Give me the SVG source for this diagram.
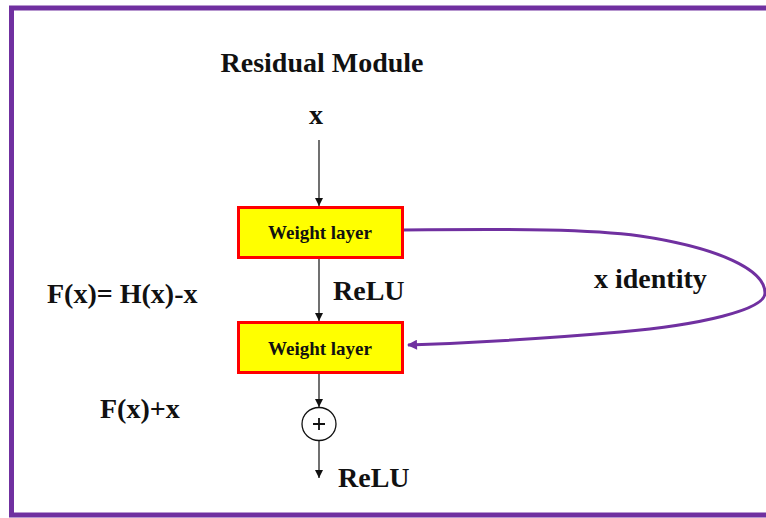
<svg xmlns="http://www.w3.org/2000/svg" width="766" height="518" viewBox="0 0 766 518">
  <style>
    text { font-family: "Liberation Serif", "Times New Roman", serif; font-weight: bold; fill: #111; }
    .big { font-size: 28px; }
    .lbl { font-size: 19px; text-anchor: middle; }
    .box { fill: #ffff00; stroke: #ff0000; stroke-width: 3; }
    .wire { fill: none; stroke: #111; stroke-width: 1.2; }
    .skip { fill: none; stroke: #7030a0; stroke-width: 3; }
  </style>
  <defs>
    <marker id="tip" viewBox="0 0 10 10" refX="10" refY="5" markerWidth="8" markerHeight="10" markerUnits="userSpaceOnUse" orient="auto">
      <path d="M0,0 L10,5 L0,10 z" fill="#111"/>
    </marker>
    <marker id="tipPurple" viewBox="0 0 10 10" refX="9" refY="5" markerWidth="12" markerHeight="10" markerUnits="userSpaceOnUse" orient="auto">
      <path d="M0,0 L10,5 L0,10 z" fill="#7030a0"/>
    </marker>
  </defs>

  <rect x="0" y="0" width="766" height="518" fill="#ffffff"/>
  <!-- outer frame -->
  <rect x="11.5" y="8" width="800" height="507" fill="none" stroke="#7030a0" stroke-width="5"/>

  <text class="big" x="322" y="72" text-anchor="middle">Residual Module</text>

  <g id="connectors">
    <line class="wire" x1="319" y1="140" x2="319" y2="206" marker-end="url(#tip)"/>
    <line class="wire" x1="319" y1="259" x2="319" y2="321" marker-end="url(#tip)"/>
    <line class="wire" x1="319" y1="374" x2="319" y2="407" marker-end="url(#tip)"/>
    <line class="wire" x1="319" y1="441" x2="319" y2="478" marker-end="url(#tip)"/>
    <path class="skip" d="M403,230 C520,229 590,229 640,236 C720,248 765,270 765,293 C765,310 700,325 620,332 C540,339 470,343 408,345" marker-end="url(#tipPurple)"/>
  </g>

  <g id="input">
    <text class="big" x="316" y="124" text-anchor="middle">x</text>
  </g>

  <g id="weight1">
    <rect class="box" x="238.5" y="207.5" width="164" height="50"/>
    <text class="lbl" x="320" y="239">Weight layer</text>
  </g>

  <g id="relu1">
    <text class="big" x="333" y="300">ReLU</text>
  </g>

  <g id="weight2">
    <rect class="box" x="238.5" y="322.5" width="164" height="50"/>
    <text class="lbl" x="320" y="355">Weight layer</text>
  </g>

  <g id="sum">
    <ellipse cx="319" cy="424" rx="17" ry="16.5" fill="#ffffff" stroke="#111" stroke-width="1.3"/>
    <path d="M313,424 H325 M319,418 V430" stroke="#111" stroke-width="1.8" fill="none"/>
  </g>

  <g id="relu2">
    <text class="big" x="338" y="487">ReLU</text>
  </g>

  <g id="identity">
    <text class="big" x="594" y="288">x identity</text>
  </g>

  <g id="residual-eq">
    <text class="big" x="47" y="303">F(x)= H(x)-x</text>
  </g>

  <g id="sum-eq">
    <text class="big" x="100" y="418">F(x)+x</text>
  </g>
</svg>
